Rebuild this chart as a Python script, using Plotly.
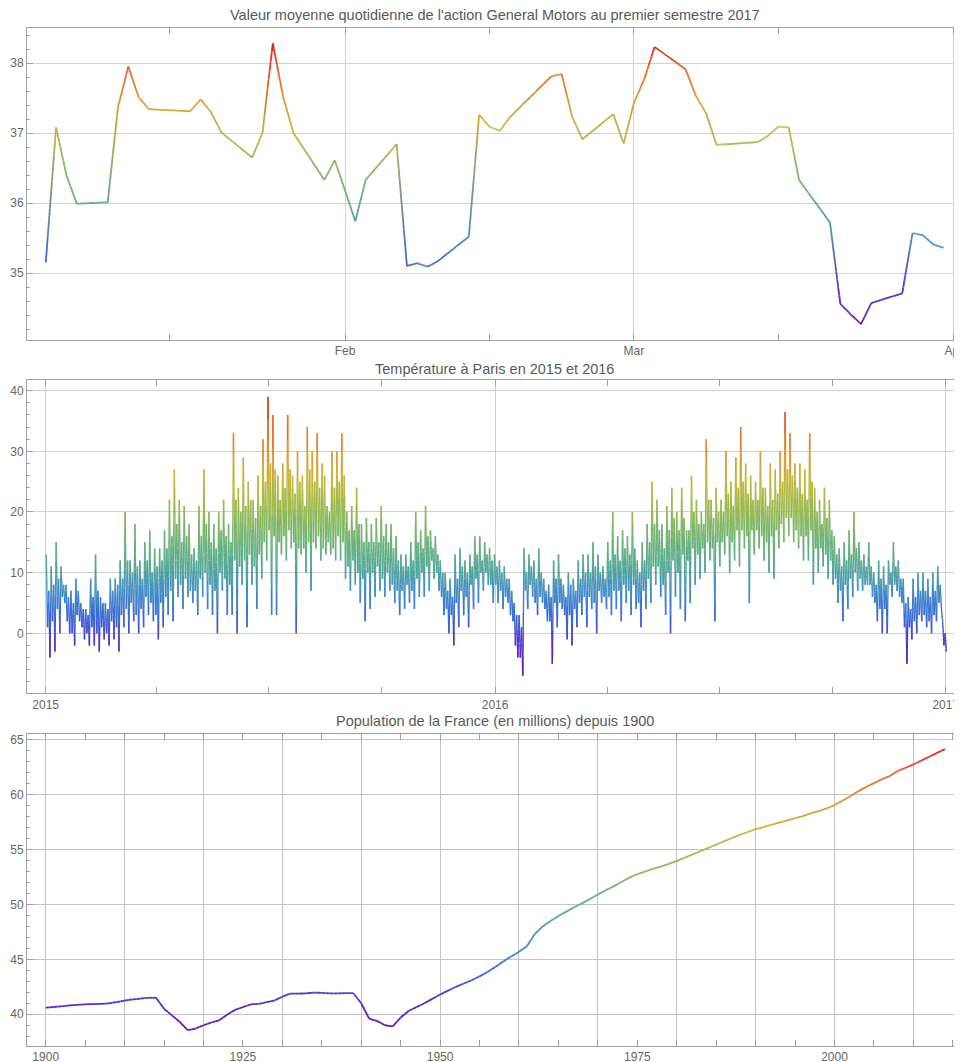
import pandas as pd
import plotly.graph_objects as go
from plotly.subplots import make_subplots

# ---- GM stock, daily mean, Q1 2017 ----
gm_dates = [
    "2017-01-03", "2017-01-04", "2017-01-05", "2017-01-06", "2017-01-09", "2017-01-10",
    "2017-01-11", "2017-01-12", "2017-01-13", "2017-01-17", "2017-01-18", "2017-01-19",
    "2017-01-20", "2017-01-23", "2017-01-24", "2017-01-25", "2017-01-26", "2017-01-27",
    "2017-01-30", "2017-01-31", "2017-02-01", "2017-02-02", "2017-02-03", "2017-02-06",
    "2017-02-07", "2017-02-08", "2017-02-09", "2017-02-10", "2017-02-13", "2017-02-14",
    "2017-02-15", "2017-02-16", "2017-02-17", "2017-02-21", "2017-02-22", "2017-02-23",
    "2017-02-24", "2017-02-27", "2017-02-28", "2017-03-01", "2017-03-02", "2017-03-03",
    "2017-03-06", "2017-03-07", "2017-03-08", "2017-03-09", "2017-03-10", "2017-03-13",
    "2017-03-14", "2017-03-15", "2017-03-16", "2017-03-17", "2017-03-20", "2017-03-21",
    "2017-03-22", "2017-03-23", "2017-03-24", "2017-03-27", "2017-03-28", "2017-03-29",
    "2017-03-30", "2017-03-31",
]
gm_values = [
    35.15, 37.08, 36.40, 35.99, 36.01, 37.37, 37.95, 37.51, 37.34, 37.31, 37.48, 37.30,
    37.01, 36.65, 37.00, 38.28, 37.52, 37.00, 36.33, 36.61, 36.18, 35.74, 36.33, 36.84,
    35.10, 35.14, 35.09, 35.17, 35.52, 37.26, 37.09, 37.03, 37.23, 37.81, 37.84, 37.24,
    36.91, 37.27, 36.85, 37.43, 37.77, 38.23, 37.91, 37.53, 37.28, 36.83, 36.84, 36.87,
    36.96, 37.09, 37.08, 36.33, 35.72, 34.56, 34.41, 34.27, 34.57, 34.71, 35.57, 35.54,
    35.41, 35.36,
]

# ---- Paris temperature 2015-2016, per 4-day block: extreme high / low
# and the ordinary high / low of the same block ----
temp_high = [
    13, 11, 15, 11, 8, 7, 9, 5, 4, 9, 13, 6, 5, 9, 9, 12, 20, 12, 18, 12,
    15, 17, 14, 14, 17, 22, 27, 22, 21, 18, 14, 21, 27, 20, 18, 20, 22, 18, 33, 24,
    29, 25, 22, 26, 32, 39, 36, 26, 28, 36, 26, 30, 26, 34, 30, 33, 28, 21, 30, 30,
    33, 20, 21, 24, 18, 19, 18, 19, 21, 18, 18, 16, 13, 13, 15, 20, 17, 21, 17, 16,
    12, 10, 9, 13, 14, 12, 13, 16, 16, 15, 14, 13, 12, 11, 9, 5, 3, 14, 13, 12,
    14, 9, 8, 12, 13, 8, 10, 9, 12, 13, 13, 15, 13, 11, 15, 20, 16, 17, 16, 20,
    12, 15, 18, 25, 22, 18, 21, 24, 20, 24, 17, 26, 22, 20, 32, 22, 24, 22, 30, 25,
    29, 34, 28, 26, 25, 30, 24, 28, 27, 30, 36.5, 33, 28, 28, 27, 33, 24, 22, 24, 22,
    16, 14, 15, 17, 20, 15, 13, 15, 10, 12, 11, 12, 15, 12, 9, 6, 9, 10, 10, 9,
    10, 11, 2,
]
temp_low = [
    -4, -3, 0, 5, 0, -2, 2, -1, -2, -2, -3, -1, -2, -1, -3, 1, 0, 2, 0, 1,
    3, 2, -1, 1, 3, 2, 6, 4, 6, 5, 3, 6, 4, 3, 0, 7, 3, 3, 0, 8,
    1, 8, 4, 9, 12, 3, 3, 13, 12, 14, 0, 13, 10, 7, 14, 12, 13, 13, 12, 12,
    9, 7, 8, 5, 2, 4, 6, 7, 6, 7, 5, 3, 4, 5, 4, 6, 6, 7, 9, 7,
    3, 0, -2, 1, 3, 1, 4, 5, 7, 8, 5, 5, 4, 5, 2, -4, -7, 4, 6, 3,
    5, 2, -5, 1, 4, -1, -2, 1, 3, 1, 4, 0, 5, 4, 3, 4, 2, 5, 3, 4,
    1, 4, 5, 8, 6, 3, 0, 6, 4, 2, 5, 8, 9, 10, 12, 2, 11, 13, 10, 12,
    11, 14, 5, 13, 14, 12, 10, 9, 14, 15, 16, 15, 14, 12, 12, 8, 10, 11, 9, 8,
    5, 2, 4, 6, 7, 7, 8, 6, 2, 0, 0, 6, 7, 5, -5, -1, 0, 2, 1, 0,
    2, 4, -3,
]
temp_core_high = [
    7, 8, 9, 8, 6, 5, 7, 4,
    3, 6, 7, 5, 4, 7, 8,
    9, 12, 10, 11, 9, 12, 10, 11,
    12, 14, 16, 18, 15, 16, 13,
    12, 16, 18, 15, 14, 17, 16, 15,
    22, 20, 21, 22, 19, 21, 25,
    28, 27, 22, 24, 27, 23, 25, 21,
    27, 25, 24, 26, 20, 24, 25, 26,
    17, 17, 18, 15, 15, 15, 15,
    16, 15, 14, 12, 11, 11, 12, 15,
    14, 16, 14, 13, 10, 7, 6, 9,
    11, 10, 11, 13, 12, 13, 12,
    11, 10, 9, 7, 3, 1, 10, 11,
    9, 10, 7, 6, 9, 9, 6,
    8, 7, 9, 10, 10, 11, 10, 9,
    12, 13, 12, 14, 13, 14, 10, 12,
    15, 18, 17, 14, 17, 19, 17,
    19, 17, 20, 18, 18, 22, 19,
    20, 20, 23, 21, 24, 25, 23, 22,
    22, 24, 21, 22, 23, 25, 27, 26,
    24, 23, 22, 25, 20, 18, 19, 17,
    13, 11, 12, 13, 14, 12, 11,
    11, 8, 9, 8, 10, 11, 9, 5,
    4, 6, 7, 7, 6, 7, 8, 0,
]
temp_core_low = [
    1, 2, 4, 6, 2, 0, 3, 1,
    0, 1, 0, 1, 0, 2, 1,
    3, 4, 5, 3, 4, 6, 5, 3,
    5, 6, 7, 9, 8, 9, 7,
    7, 9, 10, 8, 7, 10, 9, 8,
    12, 11, 12, 13, 11, 13, 15,
    17, 16, 15, 16, 17, 15, 14, 14,
    15, 15, 16, 14, 15, 14, 16, 15,
    11, 12, 10, 9, 10, 10, 11,
    9, 10, 8, 7, 7, 8, 7, 9,
    10, 11, 12, 10, 6, 4, 3, 5,
    7, 6, 8, 9, 10, 10, 8,
    8, 7, 6, 3, -2, -4, 7, 8,
    5, 6, 4, 2, 5, 5, 3,
    3, 4, 5, 6, 6, 5, 7, 6,
    6, 7, 7, 8, 7, 8, 5, 7,
    9, 11, 11, 8, 10, 12, 10,
    13, 12, 14, 13, 14, 15, 14,
    15, 15, 16, 15, 17, 17, 16, 17,
    17, 16, 15, 16, 17, 18, 19, 19,
    17, 16, 16, 17, 14, 14, 13, 12,
    9, 7, 8, 9, 10, 9, 8,
    8, 5, 4, 4, 8, 8, 6, 1,
    1, 2, 3, 3, 2, 3, 5, -2,
]

# ---- Population of France (millions) ----
pop_years = list(range(1900, 2015))
pop_values = [
    40.60, 40.66, 40.72, 40.80, 40.85, 40.90, 40.93, 40.95, 41.00, 41.10,
    41.25, 41.35, 41.42, 41.50, 41.50, 40.50, 39.90, 39.30, 38.55, 38.70,
    39.00, 39.25, 39.45, 39.95, 40.40, 40.65, 40.90, 40.95, 41.10, 41.25,
    41.60, 41.88, 41.88, 41.90, 41.97, 41.95, 41.90, 41.90, 41.93, 41.92,
    41.00, 39.60, 39.40, 39.00, 38.90, 39.70, 40.30, 40.65, 41.00, 41.40,
    41.80, 42.15, 42.50, 42.80, 43.10, 43.45, 43.85, 44.30, 44.80, 45.25,
    45.70, 46.20, 47.30, 48.00, 48.50, 48.95, 49.35, 49.75, 50.10, 50.50,
    50.90, 51.30, 51.65, 52.05, 52.45, 52.75, 53.00, 53.25, 53.45, 53.70,
    53.95, 54.25, 54.55, 54.85, 55.15, 55.45, 55.75, 56.05, 56.35, 56.60,
    56.85, 57.05, 57.25, 57.45, 57.65, 57.85, 58.05, 58.30, 58.50, 58.75,
    59.05, 59.45, 59.85, 60.30, 60.70, 61.05, 61.40, 61.70, 62.15, 62.45,
    62.75, 63.10, 63.45, 63.80, 64.15,
]

RAINBOW = [
    (0.00, (105, 25, 160)),
    (0.10, (85, 45, 200)),
    (0.20, (60, 100, 215)),
    (0.30, (65, 140, 200)),
    (0.40, (85, 170, 145)),
    (0.50, (115, 180, 115)),
    (0.60, (155, 185, 80)),
    (0.70, (195, 185, 60)),
    (0.80, (228, 150, 50)),
    (0.90, (232, 105, 45)),
    (1.00, (222, 40, 35)),
]

FONT = "Liberation Sans, Arial, sans-serif"
TICK_COLOR = "#666666"
FRAME_COLOR = "#a0a0a0"


def rainbow(t):
    t = min(max(t, 0.0), 1.0)
    for (t0, c0), (t1, c1) in zip(RAINBOW[:-1], RAINBOW[1:]):
        if t <= t1:
            f = (t - t0) / (t1 - t0)
            return tuple(c0[i] + (c1[i] - c0[i]) * f for i in range(3))
    return RAINBOW[-1][1]


def gradient_line(fig, x, y, row, width, pieces, by_height):
    # one colour per small piece of each segment, pieces grouped by colour
    lo, hi = min(y), max(y)
    groups = {}
    for i in range(len(x) - 1):
        x0, x1, y0, y1 = x[i], x[i + 1], y[i], y[i + 1]
        c0 = rainbow((y0 - lo) / (hi - lo))
        c1 = rainbow((y1 - lo) / (hi - lo))
        for k in range(pieces):
            fa, fb = k / pieces, (k + 1) / pieces
            fm = (fa + fb) / 2
            if by_height:
                c = rainbow((y0 + (y1 - y0) * fm - lo) / (hi - lo))
            else:
                c = tuple(c0[j] + (c1[j] - c0[j]) * fm for j in range(3))
            key = "rgb(%d,%d,%d)" % tuple(min(255, int(round(v / 5) * 5)) for v in c)
            gx, gy = groups.setdefault(key, ([], []))
            gx += [x0 + (x1 - x0) * fa, x0 + (x1 - x0) * fb, None]
            gy += [y0 + (y1 - y0) * fa, y0 + (y1 - y0) * fb, None]
    for key, (gx, gy) in groups.items():
        fig.add_trace(go.Scatter(x=gx, y=gy, mode="lines",
                                 line=dict(color=key, width=width),
                                 hoverinfo="skip", showlegend=False),
                      row=row, col=1)


def to_ms(dates):
    return [int(t.value // 10**6) for t in pd.to_datetime(dates)]


fig = make_subplots(rows=3, cols=1)

gradient_line(fig, to_ms(gm_dates), gm_values, 1, 1.8, 10, False)

block_start = pd.date_range("2015-01-01", periods=len(temp_high), freq="4D")
temp_dates, temp_values = [], []
for d, h, cl, ch, l in zip(block_start, temp_high, temp_core_low, temp_core_high, temp_low):
    temp_dates += [d + pd.Timedelta(hours=h_) for h_ in (12, 36, 60, 84)]
    temp_values += [h, cl, ch, l]
gradient_line(fig, to_ms(temp_dates), temp_values, 2, 1.4, 6, True)

gradient_line(fig, pop_years, pop_values, 3, 1.8, 2, False)

axis_common = dict(
    showline=True, linecolor=FRAME_COLOR, linewidth=1, mirror="ticks",
    ticks="inside", ticklen=6, tickcolor=FRAME_COLOR,
    tickfont=dict(family=FONT, size=12, color=TICK_COLOR),
    zeroline=False, gridwidth=1, automargin=False,
)

# panel 1
fig.update_xaxes(
    type="date", range=["2017-01-01 04:20", "2017-04-01 19:00"],
    tickmode="array",
    tickvals=["2017-01-15", "2017-02-01", "2017-02-15", "2017-03-01", "2017-03-15", "2017-04-01"],
    ticktext=["", "Feb", "", "Mar", "", "Apr"],
    showgrid=False, ticklabeloverflow="allow",
    minor=dict(tickmode="array", tickvals=["2017-02-01", "2017-03-01", "2017-04-01"],
               ticks="", showgrid=True, gridcolor="#d4d4d4"),
    row=1, col=1, **axis_common)
fig.update_yaxes(
    range=[34.043, 38.5], tickmode="array", tickvals=[35, 36, 37, 38],
    showgrid=True, gridcolor="#d4d4d4",
    minor=dict(dtick=0.2, ticks="inside", ticklen=3, tickcolor=FRAME_COLOR, showgrid=False),
    row=1, col=1, **axis_common)

# panel 2
fig.update_xaxes(
    type="date", range=["2014-12-16 19:40", "2017-01-14 05:00"],
    tickmode="array", tickvals=["2015-01-01", "2016-01-01", "2017-01-01"],
    ticktext=["2015", "2016", "2017"], ticklabeloverflow="allow",
    showgrid=True, gridcolor="#d0d0d0",
    minor=dict(tickmode="array",
               tickvals=["2015-04-01", "2015-07-01", "2015-10-01",
                         "2016-04-01", "2016-07-01", "2016-10-01"],
               ticks="inside", ticklen=6, tickcolor=FRAME_COLOR, showgrid=False),
    row=2, col=1, **axis_common)
fig.update_yaxes(
    range=[-9.89, 41.71], tickmode="array", tickvals=[0, 10, 20, 30, 40],
    showgrid=True, gridcolor="#d0d0d0",
    minor=dict(dtick=2, ticks="inside", ticklen=3, tickcolor=FRAME_COLOR, showgrid=False),
    row=2, col=1, **axis_common)

# panel 3
pop_ticks = list(range(1900, 2016, 5))
fig.update_xaxes(
    range=[1897.63, 2016.16], tickmode="array", tickvals=pop_ticks,
    ticktext=[str(v) if v % 25 == 0 else "" for v in pop_ticks],
    showgrid=False, ticklabeloverflow="allow",
    minor=dict(tickmode="array", tickvals=list(range(1900, 2011, 10)),
               ticks="", showgrid=True, gridcolor="#c4c4c4"),
    row=3, col=1, **axis_common)
fig.update_yaxes(
    range=[37.11, 65.55], tickmode="array", tickvals=[40, 45, 50, 55, 60, 65],
    showgrid=True, gridcolor="#c4c4c4",
    minor=dict(dtick=1, ticks="inside", ticklen=3, tickcolor=FRAME_COLOR, showgrid=False),
    row=3, col=1, **axis_common)

# the page body adds an 8px margin, so the figure is 8px smaller and
# every position below is the target position minus 8
W, H = 954.0, 1054.0
fig.update_layout(
    width=W, height=H,
    margin=dict(l=19, r=0, t=0, b=0, autoexpand=False),
    paper_bgcolor="white", plot_bgcolor="white",
    showlegend=False,
    xaxis=dict(domain=[0, 1]), xaxis2=dict(domain=[0, 1]), xaxis3=dict(domain=[0, 1]),
    yaxis=dict(domain=[1 - 332 / H, 1 - 20 / H]),
    yaxis2=dict(domain=[1 - 685.3 / H, 1 - 372.3 / H]),
    yaxis3=dict(domain=[1 - 1038 / H, 1 - 725.7 / H]),
)

titles = [
    ("Valeur moyenne quotidienne de l'action General Motors au premier semestre 2017", 6.5),
    ("Température à Paris en 2015 et 2016", 361),
    ("Population de la France (en millions) depuis 1900", 712.5),
]
for text, ypx in titles:
    fig.add_annotation(text=text, xref="paper", yref="paper", x=0.5, y=1 - ypx / H,
                       xanchor="center", yanchor="middle", showarrow=False,
                       font=dict(family=FONT, size=14.5, color="#595959"))

fig.write_html("out.html")
